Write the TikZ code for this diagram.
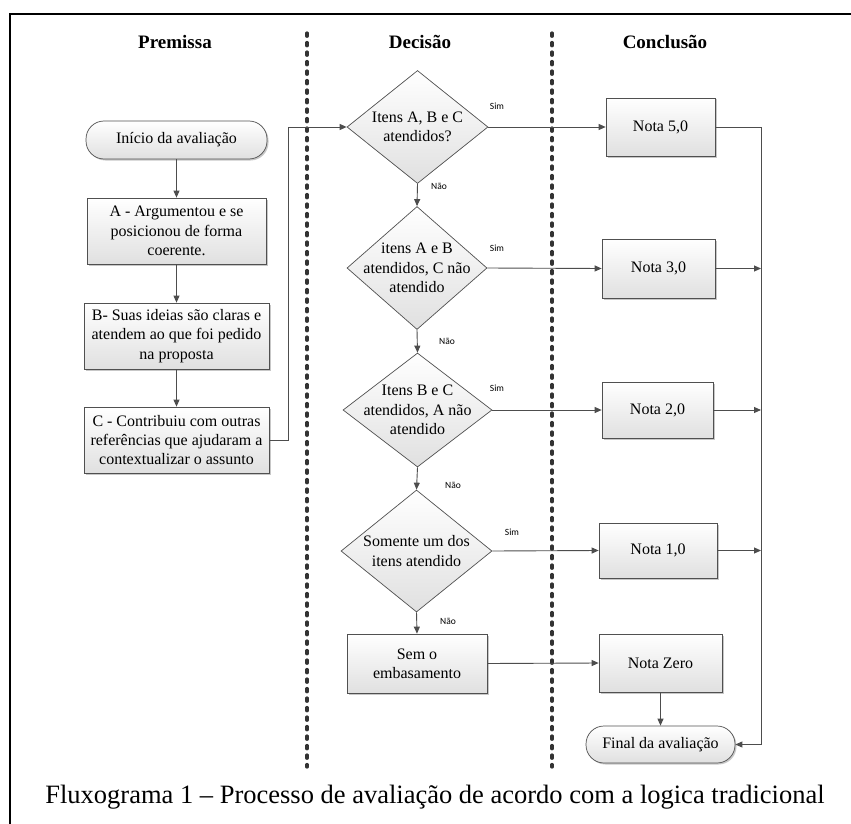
\documentclass[tikz,border=0pt]{standalone}
\usepackage{fontspec}
\setmainfont{Liberation Serif}
\newfontfamily\lblfont{Carlito}
\usetikzlibrary{arrows.meta,shapes.geometric,shadows}
\definecolor{linegray}{HTML}{4D4D4D}
\definecolor{boxborder}{HTML}{505050}
\definecolor{boxfill}{HTML}{E0E0E0}
\definecolor{dotgray}{HTML}{333333}
\begin{document}
\begin{tikzpicture}[x=1pt,y=-1pt,
  line/.style={draw=linegray, line width=0.9pt},
  arr/.style={line, -{Triangle[length=7pt,width=6pt]}},
  shade/.style={top color=white, bottom color=boxfill},
  shad/.style={drop shadow={shadow xshift=1.5pt,shadow yshift=-1.5pt,fill=black,opacity=0.22}},
  txt/.style={font=\fontsize{16}{19.3}\selectfont, align=center, text=black},
  box/.style={draw=boxborder, line width=0.7pt, shade, shad, txt, inner sep=0pt, rectangle},
  term/.style={box, rounded corners=18pt},
  dia/.style={diamond, draw=boxborder, line width=0.7pt, shade, inner sep=0pt},
  yn/.style={font=\lblfont\fontsize{9.5}{11}\selectfont, inner sep=0pt},
  head/.style={font=\bfseries\fontsize{19}{22}\selectfont, anchor=base, inner sep=0pt},
  sep/.style={draw=dotgray, line width=3.2pt, line cap=round, dash pattern=on 3.3pt off 6.2pt}
]
\useasboundingbox (0,0) rectangle (851,824);
\clip (0,0) rectangle (851,824);
\fill[white] (0,0) rectangle (851,824);

% frame
\draw[line width=1.8pt] (10,14) rectangle (880,850);

% headers
\node[head] (h1) at (175,49) {Premissa};
\node[head] (h2) at (420,49) {Decisão};
\node[head] (h3) at (665,49) {Conclusão};

% separators
\coordinate (s1t) at (307,33);
\coordinate (s1b) at (307,767);
\coordinate (s2t) at (552,33);
\coordinate (s2b) at (552,767);
\draw[sep] (s1t) -- (s1b);
\draw[sep] (s2t) -- (s2b);

% premissa column
\node[term, minimum width=181pt, minimum height=38pt] (start) at (176.5,140) {Início da avaliação};
\node[box, minimum width=179pt, minimum height=66pt] (a) at (176.5,231) {A - Argumentou e se\\posicionou de forma\\coerente.};
\node[box, minimum width=185pt, minimum height=66pt] (b) at (176.5,336) {B- Suas ideias são claras e\\atendem ao que foi pedido\\na proposta};
\node[box, minimum width=185pt, minimum height=66pt] (c) at (176.5,440) {C - Contribuiu com outras\\referências que ajudaram a\\contextualizar o assunto};

% decisão column
\node[dia, minimum width=141pt, minimum height=113pt] (d1) at (417.5,127) {};
\node[txt] (d1t) at (d1.center) {Itens A, B e C\\atendidos?};
\node[dia, minimum width=140pt, minimum height=123pt] (d2) at (417,268) {};
\node[txt] (d2t) at (d2.center) {itens A e B\\atendidos, C não\\atendido};
\node[dia, minimum width=149pt, minimum height=114pt] (d3) at (417.5,410) {};
\node[txt] (d3t) at (d3.center) {Itens B e C\\atendidos, A não\\atendido};
\node[dia, minimum width=151pt, minimum height=122pt] (d4) at (416.5,551) {};
\node[txt] (d4t) at (d4.center) {Somente um dos\\itens atendido};
\node[box, minimum width=140pt, minimum height=59pt] (sem) at (417,663.5) {Sem o\\embasamento};

% conclusão column
\node[box, minimum width=109pt, minimum height=58pt] (n5) at (660.5,127) {Nota 5,0};
\node[box, minimum width=113pt, minimum height=59pt] (n3) at (658.5,268.5) {Nota 3,0};
\node[box, minimum width=111pt, minimum height=56pt] (n2) at (657.5,410) {Nota 2,0};
\node[box, minimum width=118pt, minimum height=55pt] (n1) at (658,550.5) {Nota 1,0};
\node[box, minimum width=123pt, minimum height=58pt] (nz) at (660.5,663) {Nota Zero};
\node[term, minimum width=149pt, minimum height=37pt] (fin) at (660.5,744.5) {Final da avaliação};

% premissa connectors
\draw[arr] (start) -- (a);
\draw[arr] (a) -- (b);
\draw[arr] (b) -- (c);
\draw[arr] (c.east) -- ++(19,0) |- (d1.west);

% decision chain
\draw[arr] (d1.south) -- (d2.north);
\draw[arr] (d2.south) -- (d3.north);
\draw[arr] (d3.south) -- (d4.north);
\draw[arr] (d4.south) -- (sem.north);

% yes branches
\draw[arr] (d1.east) -- (n5.west);
\draw[arr] (d2.east) -- (n3.west);
\draw[arr] (d3.east) -- (n2.west);
\draw[arr] (d4.east) -- (n1.west);
\draw[arr] (sem.east) -- (nz.west);
\draw[arr] (nz.south) -- (fin.north);

% collector
\coordinate (ctop) at (761,127);
\draw[arr] (n5.east) -- (ctop) |- (fin.east);
\draw[arr] (n3.east) -- (n3.east -| ctop);
\draw[arr] (n2.east) -- (n2.east -| ctop);
\draw[arr] (n1.east) -- (n1.east -| ctop);

% labels
\node[yn] (y1) at (497,106) {Sim};
\node[yn] (y2) at (497,248) {Sim};
\node[yn] (y3) at (497,388) {Sim};
\node[yn] (y4) at (512,532) {Sim};
\node[yn] (no1) at (439,186) {Não};
\node[yn] (no2) at (447,341) {Não};
\node[yn] (no3) at (453,485) {Não};
\node[yn] (no4) at (448,621) {Não};

% caption
\node[font=\fontsize{26.5}{30}\selectfont, anchor=base, inner sep=0pt] (cap) at (435,803) {Fluxograma 1 – Processo de avaliação de acordo com a logica tradicional};
\end{tikzpicture}
\end{document}
